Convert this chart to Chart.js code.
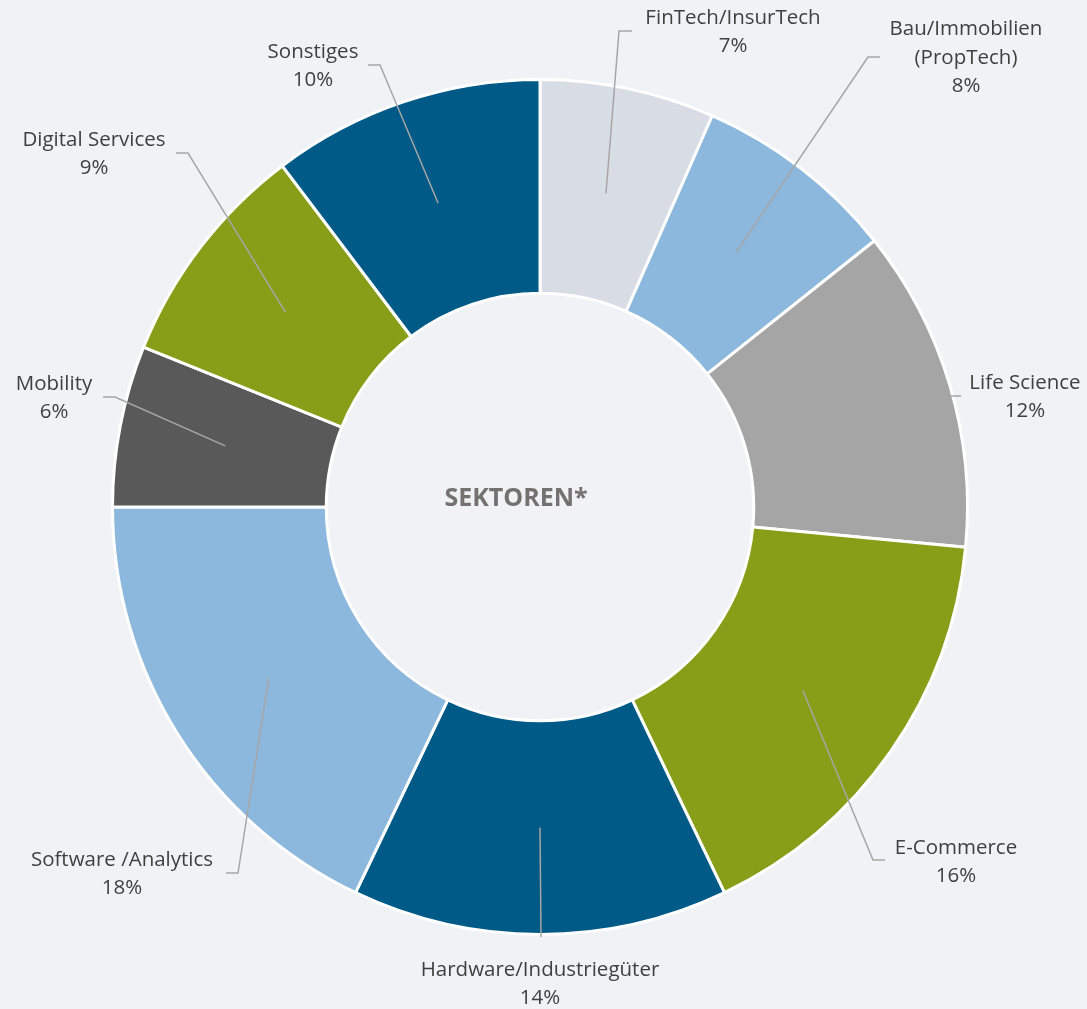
<!DOCTYPE html>
<html>
<head>
<meta charset="utf-8">
<script src="https://cdn.jsdelivr.net/npm/chart.js@4/dist/chart.umd.min.js"></script>
<style>
  html, body { margin: 0; padding: 0; background: #F0F2F6; }
  #wrap { width: 1087px; height: 1009px; }
</style>
</head>
<body>
<div id="wrap"><canvas id="sektorenChart" width="1087" height="1009"></canvas></div>
<script>
// Sektoren (Anteile in %)
var sectors = ['FinTech/InsurTech', 'Bau/Immobilien (PropTech)', 'Life Science', 'E-Commerce',
  'Hardware/Industriegüter', 'Software /Analytics', 'Mobility', 'Digital Services', 'Sonstiges'];
var labelLines = [['FinTech/InsurTech'], ['Bau/Immobilien', '(PropTech)'], ['Life Science'], ['E-Commerce'],
  ['Hardware/Industriegüter'], ['Software /Analytics'], ['Mobility'], ['Digital Services'], ['Sonstiges']];
var shares = [6.6, 7.7, 12.2, 16.4, 14.2, 17.9, 6.1, 8.6, 10.3];
var colors = ['#D8DCE4', '#8DB8DD', '#A5A5A5', '#889E18', '#005A87', '#8DB8DD', '#595959', '#889E18', '#005A87'];

// label placement: text centre, leader elbow, leader end (px)
var labelPos = [
  { tx: 733, ty: 32, ex: 619, ey: 31, lx: 632 },
  { tx: 966, ty: 58, ex: 868, ey: 57, lx: 880 },
  { tx: 1025, ty: 397, ex: 951, ey: 396, lx: 961, stub: true },
  { tx: 956, ty: 862, ex: 873, ey: 860, lx: 885 },
  { tx: 540, ty: 984, ex: 541, ey: 937, lx: 541 },
  { tx: 122, ty: 874, ex: 238, ey: 873, lx: 226 },
  { tx: 54, ty: 398, ex: 115, ey: 397, lx: 103 },
  { tx: 94, ty: 154, ex: 188, ey: 153, lx: 176 },
  { tx: 313, ty: 66, ex: 380, ey: 65, lx: 368 }
];

var labelFont = '20.5px "Open Sans", sans-serif';
var lineH = 28.5;

var outsideLabels = {
  id: 'outsideLabels',
  afterDatasetsDraw: function (chart) {
    var ctx = chart.ctx;
    var arcs = chart.getDatasetMeta(0).data;
    ctx.save();
    arcs.forEach(function (arc, i) {
      var p = arc.getProps(['x', 'y', 'startAngle', 'endAngle', 'innerRadius', 'outerRadius']);
      var mid = (p.startAngle + p.endAngle) / 2;
      var r = (p.innerRadius + p.outerRadius) / 2;
      var sx = p.x + Math.cos(mid) * r;
      var sy = p.y + Math.sin(mid) * r;
      var pos = labelPos[i];

      ctx.strokeStyle = '#A6A6A6';
      ctx.lineWidth = 1.5;
      ctx.beginPath();
      if (pos.stub) {
        ctx.moveTo(pos.ex, pos.ey);
      } else {
        ctx.moveTo(sx, sy);
        ctx.lineTo(pos.ex, pos.ey);
      }
      ctx.lineTo(pos.lx, pos.ey);
      ctx.stroke();

      var lines = labelLines[i].concat([Math.round(shares[i]) + '%']);
      ctx.fillStyle = '#404040';
      ctx.font = labelFont;
      ctx.textAlign = 'center';
      ctx.textBaseline = 'middle';
      var y0 = pos.ty - (lines.length - 1) * lineH / 2;
      lines.forEach(function (t, k) {
        ctx.fillText(t, pos.tx, y0 + k * lineH);
      });
    });

    ctx.font = 'bold 25px "Open Sans", sans-serif';
    ctx.fillStyle = '#767171';
    ctx.textAlign = 'center';
    ctx.textBaseline = 'middle';
    ctx.fillText('SEKTOREN*', 516, 499);
    ctx.restore();
  }
};

new Chart(document.getElementById('sektorenChart').getContext('2d'), {
  type: 'doughnut',
  data: {
    labels: sectors,
    datasets: [{
      data: shares,
      backgroundColor: colors,
      borderColor: '#FFFFFF',
      borderWidth: 3,
      hoverOffset: 0
    }]
  },
  options: {
    responsive: false,
    animation: false,
    cutout: '50%',
    layout: { padding: { left: 111, top: 77, right: 118, bottom: 72 } },
    plugins: {
      legend: { display: false },
      tooltip: { enabled: false }
    }
  },
  plugins: [outsideLabels]
});
</script>
</body>
</html>
